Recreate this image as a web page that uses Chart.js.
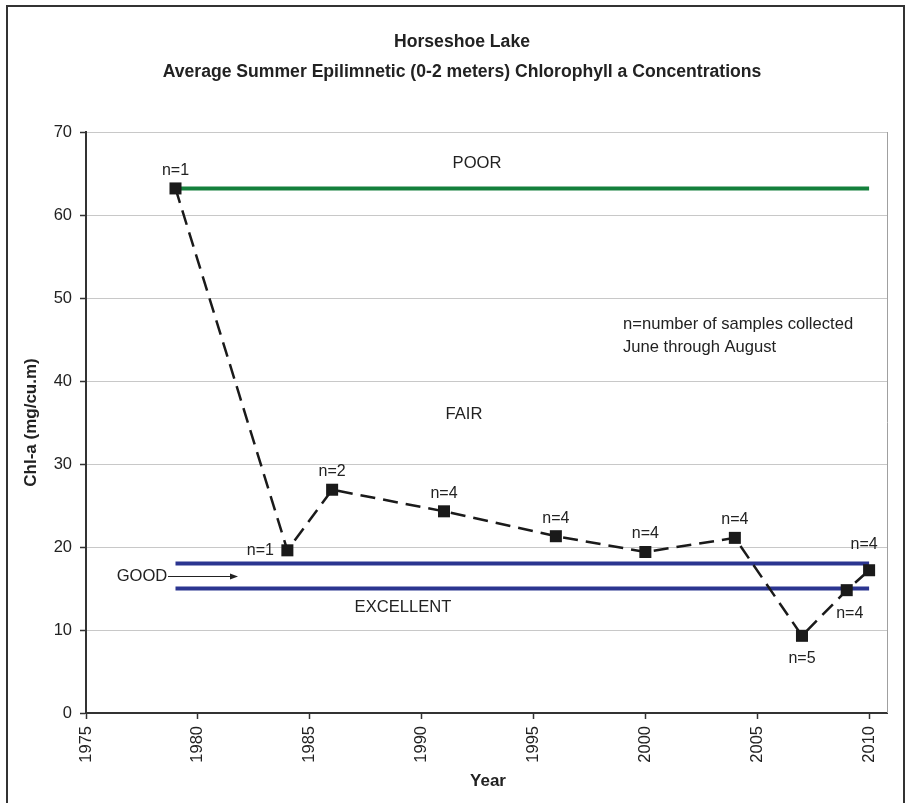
<!DOCTYPE html>
<html>
<head>
<meta charset="utf-8">
<script src="https://cdn.jsdelivr.net/npm/chart.js@4.4.1/dist/chart.umd.min.js"></script>
<style>
  body { margin: 0; background: #fff; }
  #wrap { width: 911px; height: 803px; position: relative; }
</style>
</head>
<body>
<div id="wrap"><canvas id="myChart" width="911" height="803"></canvas></div>
<script>
// data
let years = [1979, 1984, 1986, 1991, 1996, 2000, 2004, 2007, 2009, 2010];
let chla = [63.2, 19.6, 26.9, 24.3, 21.3, 19.4, 21.1, 9.3, 14.8, 17.2];
let samples = [1, 1, 2, 4, 4, 4, 4, 5, 4, 4];
let labelSide = ['above', 'left', 'above', 'above', 'above', 'above', 'above', 'below', 'below', 'above'];

let poorLimit = 63.2;
let goodLimit = 18;
let excellentLimit = 15;
let limitYears = [1979, 2010];

let yTicks = [0, 10, 20, 30, 40, 50, 60, 70];
let xTicks = [1975, 1980, 1985, 1990, 1995, 2000, 2005, 2010];

let mainPoints = years.map((y, i) => ({ x: y, y: chla[i] }));
let limitLine = v => limitYears.map(y => ({ x: y, y: v }));

const FONT = '"Liberation Sans", Arial, sans-serif';
const TXT = '#222';

const decor = {
    id: 'decor',
    beforeDatasetsDraw(chart) {
        const ctx = chart.ctx, a = chart.chartArea;
        ctx.save();
        ctx.strokeStyle = '#a0a0a0';
        ctx.lineWidth = 1;
        ctx.beginPath();
        ctx.moveTo(a.right + 0.5, a.top);
        ctx.lineTo(a.right + 0.5, a.bottom);
        ctx.stroke();
        ctx.restore();
    },
    afterDraw(chart) {
        const ctx = chart.ctx, a = chart.chartArea;
        ctx.save();
        // outer frame
        ctx.strokeStyle = '#333';
        ctx.lineWidth = 2;
        ctx.beginPath();
        ctx.moveTo(7, 803);
        ctx.lineTo(7, 6);
        ctx.lineTo(904, 6);
        ctx.lineTo(904, 803);
        ctx.stroke();

        ctx.fillStyle = TXT;
        ctx.textAlign = 'center';
        ctx.textBaseline = 'middle';
        ctx.font = 'bold 17.6px ' + FONT;
        ctx.fillText('Horseshoe Lake', 462, 42);
        ctx.fillText('Average Summer Epilimnetic (0-2 meters) Chlorophyll a Concentrations', 462, 72);

        // axis titles
        ctx.font = 'bold 17px ' + FONT;
        ctx.fillText('Year', 488, 781);
        ctx.save();
        ctx.translate(31, (a.top + a.bottom) / 2);
        ctx.rotate(-Math.PI / 2);
        ctx.fillText('Chl-a (mg/cu.m)', 0, 0);
        ctx.restore();

        // n= labels
        ctx.font = '16px ' + FONT;
        const meta = chart.getDatasetMeta(0);
        meta.data.forEach((pt, i) => {
            let x = pt.x, y = pt.y;
            const side = labelSide[i];
            if (side === 'above') y -= 18;
            else if (side === 'below') { y += 23; }
            else if (side === 'left') x -= 27;
            if (i === 9) { y -= 8; x -= 5; }
            if (i === 8) x += 3;
            ctx.fillText('n=' + samples[i], x, y);
        });

        // zone labels
        ctx.font = '16.6px ' + FONT;
        ctx.fillText('POOR', 477, 163);
        ctx.fillText('FAIR', 464, 414);
        ctx.fillText('EXCELLENT', 403, 607);
        ctx.fillText('GOOD', 142, 576);
        ctx.strokeStyle = '#222';
        ctx.lineWidth = 1;
        ctx.beginPath();
        ctx.moveTo(168, 576.5);
        ctx.lineTo(234, 576.5);
        ctx.stroke();
        ctx.beginPath();
        ctx.moveTo(238, 576.5);
        ctx.lineTo(230, 573.5);
        ctx.lineTo(230, 579.5);
        ctx.closePath();
        ctx.fill();

        ctx.textAlign = 'left';
        ctx.fillText('n=number of samples collected', 623, 324);
        ctx.fillText('June through August', 623, 347);
        ctx.restore();
    }
};

let myChart = document.getElementById('myChart').getContext('2d');
let lineChart = new Chart(myChart, {
    type: 'scatter',
    data: {
        datasets: [{
            label: 'Chl-a',
            data: mainPoints,
            showLine: true,
            borderColor: '#1a1a1a',
            borderWidth: 2.5,
            borderDash: [15, 8],
            pointStyle: 'rect',
            pointRadius: 8.5,
            pointBackgroundColor: '#1a1a1a',
            pointBorderColor: '#1a1a1a',
            pointBorderWidth: 0
        }, {
            label: 'Poor',
            data: limitLine(poorLimit),
            showLine: true,
            borderColor: '#14803c',
            borderWidth: 4,
            pointRadius: 0
        }, {
            label: 'Good',
            data: limitLine(goodLimit),
            showLine: true,
            borderColor: '#2b3590',
            borderWidth: 4,
            pointRadius: 0
        }, {
            label: 'Excellent',
            data: limitLine(excellentLimit),
            showLine: true,
            borderColor: '#2b3590',
            borderWidth: 4,
            pointRadius: 0
        }]
    },
    options: {
        responsive: false,
        animation: false,
        layout: { padding: { top: 132, right: 24, bottom: 0, left: 0 } },
        plugins: {
            legend: { display: false },
            tooltip: { enabled: false }
        },
        scales: {
            x: {
                type: 'linear',
                min: 1975,
                max: 2010.8,
                afterBuildTicks: s => { s.ticks = xTicks.map(v => ({ value: v })); },
                afterFit: s => { s.height = 90; },
                ticks: {
                    minRotation: 90,
                    maxRotation: 90,
                    padding: 7,
                    color: TXT,
                    font: { family: FONT, size: 16.5 },
                    callback: v => String(v)
                },
                grid: { drawOnChartArea: false, tickLength: 6, tickColor: '#333', tickWidth: 1.5 },
                border: { color: '#333', width: 2 }
            },
            y: {
                min: 0,
                max: 70,
                afterBuildTicks: s => { s.ticks = yTicks.map(v => ({ value: v })); },
                afterFit: s => { s.width = 86; },
                ticks: {
                    padding: 8,
                    color: TXT,
                    font: { family: FONT, size: 16.5 }
                },
                grid: { color: '#c8c8c8', lineWidth: 1, tickLength: 6, tickColor: '#333', tickWidth: 1.5 },
                border: { color: '#333', width: 2 }
            }
        }
    },
    plugins: [decor]
});
</script>
</body>
</html>
